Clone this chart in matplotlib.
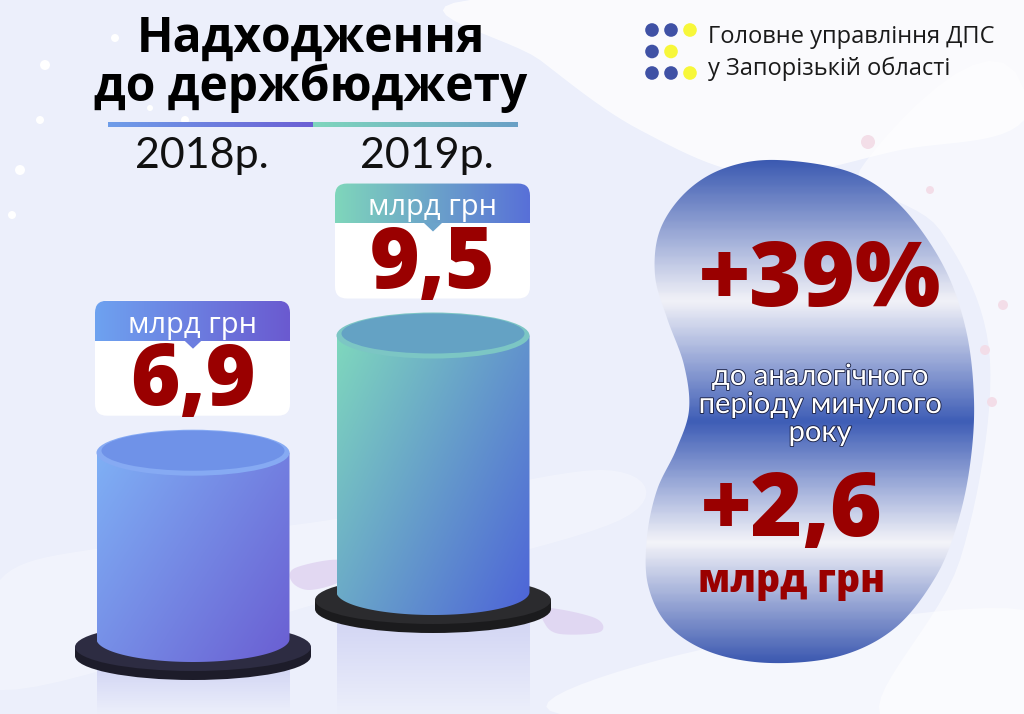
import numpy as np
import matplotlib
matplotlib.use('Agg')
import matplotlib.pyplot as plt
from matplotlib.patches import Ellipse, Polygon, FancyBboxPatch, Circle, Rectangle
from matplotlib.colors import LinearSegmentedColormap
import matplotlib.patheffects as pe

# --- data ---
years = ['2018р.', '2019р.']
values = [6.9, 9.5]                 # млрд грн
unit = 'млрд грн'
growth_pct = '+39%'
growth_abs = '+2,6'
title_lines = ['Надходження', 'до держбюджету']
org_lines = ['Головне управління ДПС', 'у Запорізькій області']
note = 'до аналогічного\nперіоду минулого\nроку'

# --- layout (pixel space, y down) ---
W, H = 1024, 714
FONT = ['Open Sans', 'DejaVu Sans']
THIN = ['Lato', 'DejaVu Sans']
DARK_RED = '#9a0000'
px_per_unit = 27.0
cx_list = [193, 433]
bottom_y = [639, 592]
rx, ry = 96.5, 23
body_cols = [('#7fb0f5', '#6a5ed2'), ('#7fd8bd', '#4d63d8')]
top_cols = [('#86aaf3', '#6f92e8'), ('#7cc6c4', '#64a2c4')]
base_cols = [('#2d2c42', '#1d1c2a'), ('#2b2b2e', '#1b1b1d')]
head_cols = [('#6ea2f0', '#6a5ad0'), ('#7fd6bb', '#5870d8')]

fig = plt.figure(figsize=(W / 100, H / 100), dpi=100)
ax = fig.add_axes([0, 0, 1, 1])
ax.axis('off')


def grad(clip, x0, x1, y0, y1, colors, angle=0.0, z=1, stops=None):
    n = 200
    s = np.linspace(0, 1, n)
    X, Y = np.meshgrid(s, s)
    a = np.deg2rad(angle)
    t = X * np.cos(a) + Y * np.sin(a)
    t = (t - t.min()) / (t.max() - t.min())
    if stops is None:
        cmap = LinearSegmentedColormap.from_list('g', colors)
    else:
        cmap = LinearSegmentedColormap.from_list('g', list(zip(stops, colors)))
    im = ax.imshow(cmap(t), extent=(x0, x1, y1, y0), origin='upper',
                   aspect='auto', zorder=z, interpolation='bilinear')
    if clip is not None:
        im.set_clip_path(clip)
    return im


def smooth_closed(pts, n=24):
    P = np.array(pts, float)
    m = len(P)
    out = []
    t = np.linspace(0, 1, n, endpoint=False)[:, None]
    for i in range(m):
        p0, p1, p2, p3 = P[i - 1], P[i], P[(i + 1) % m], P[(i + 2) % m]
        out.append(0.5 * (2 * p1 + (-p0 + p2) * t + (2 * p0 - 5 * p1 + 4 * p2 - p3) * t ** 2
                          + (-p0 + 3 * p1 - 3 * p2 + p3) * t ** 3))
    return np.vstack(out)


# background
ax.add_patch(Rectangle((0, 0), W, H, fc='#eceffb', lw=0, zorder=0))
for pts, a in [
    ([(470, 0), (1024, 0), (1024, 120), (900, 150), (760, 175), (640, 130), (540, 60)], 0.75),
    ([(1024, 90), (1024, 714), (880, 714), (960, 560), (990, 360), (940, 230), (860, 170)], 0.55),
    ([(0, 580), (120, 545), (330, 520), (600, 470), (620, 520), (330, 600), (0, 690)], 0.3),
    ([(560, 714), (700, 650), (1024, 610), (1024, 714)], 0.5),
]:
    ax.add_patch(Polygon(smooth_closed(pts, 12), closed=True, fc='white', alpha=a, lw=0, zorder=0.2))
for (x, y, r) in [(20, 170, 5), (45, 65, 5), (115, 38, 4), (40, 120, 4), (185, 120, 4),
                  (150, 108, 3), (12, 215, 4)]:
    ax.add_patch(Circle((x, y), r, fc='white', lw=0, zorder=0.3))
for (x, y, r) in [(868, 142, 7), (1003, 305, 5), (985, 350, 5), (992, 402, 5), (930, 190, 4)]:
    ax.add_patch(Circle((x, y), r, fc='#f3dbe6', lw=0, zorder=0.3, alpha=0.9))

# purple brush marks near the second cylinder
for pts in [[(295, 568), (340, 560), (342, 580), (310, 590), (292, 582)],
            [(545, 608), (595, 618), (600, 632), (560, 634), (545, 624)]]:
    ax.add_patch(Polygon(smooth_closed(pts, 10), closed=True, fc='#dccdef', alpha=0.7, lw=0, zorder=0.5))

# title
ax.text(311, 52, title_lines[0], ha='center', va='baseline', fontsize=34.5,
        fontweight='bold', family=FONT, color='black', zorder=5)
ax.text(311, 101, title_lines[1], ha='center', va='baseline', fontsize=34.5,
        fontweight='bold', family=FONT, color='black', zorder=5)
r1 = Rectangle((108, 122), 205, 5, fc='none', lw=0)
r2 = Rectangle((313, 122), 205, 5, fc='none', lw=0)
ax.add_patch(r1)
ax.add_patch(r2)
grad(r1, 108, 313, 122, 127, ['#6f9de9', '#6b5fd4'], z=3)
grad(r2, 313, 518, 122, 127, ['#7fd6bd', '#6aa0c6'], z=3)

# logo
logo = [('#3f51a5', '#3f51a5', '#f7f73a'), ('#3f51a5', '#f7f73a', None), ('#3f51a5', '#3f51a5', '#f7f73a')]
for i, row in enumerate(logo):
    for j, c in enumerate(row):
        if c:
            ax.add_patch(Circle((652 + 19 * j, 30 + 21.5 * i), 6.8, fc=c, lw=0, zorder=5))
ax.text(708, 43, org_lines[0], fontsize=17, family=FONT, color='#1a1a1a', va='baseline', zorder=5)
ax.text(708, 75, org_lines[1], fontsize=17, family=FONT, color='#1a1a1a', va='baseline', zorder=5)

# cylinders
for k, (cx, yb, v) in enumerate(zip(cx_list, bottom_y, values)):
    yt = yb - v * px_per_unit
    # reflection below base
    refl = Rectangle((cx - rx, yb + 30), 2 * rx, H - yb - 30, fc='none', lw=0)
    ax.add_patch(refl)
    grad(refl, cx - rx, cx + rx, yb + 30, H, ['#d3d6f4', '#eceffb'], angle=90, z=0.6)
    # base disk
    bc = yb + 8
    btop, bside = base_cols[k]
    ax.add_patch(Ellipse((cx, bc + 9), 236, 48, fc=bside, lw=0, zorder=2))
    ax.add_patch(Rectangle((cx - 118, bc), 236, 9, fc=bside, lw=0, zorder=2))
    ax.add_patch(Ellipse((cx, bc), 236, 48, fc=btop, lw=0, zorder=2.1))
    # body
    th = np.linspace(0, np.pi, 80)
    arc = np.column_stack([cx + rx * np.cos(th), yb + ry * np.sin(th)])
    body = Polygon(np.vstack([[cx + rx, yt], arc, [cx - rx, yt]]), closed=True, fc='none', lw=0)
    ax.add_patch(body)
    grad(body, cx - rx, cx + rx, yt, yb + ry, list(body_cols[k]), angle=35, z=3)
    # top face
    rim, face = top_cols[k]
    ax.add_patch(Ellipse((cx, yt), 2 * rx, 2 * ry, fc=rim, lw=0, zorder=3.2))
    ax.add_patch(Ellipse((cx, yt - 2), 2 * rx - 10, 2 * ry - 6, fc=face, lw=0, zorder=3.3))

    # value label box
    bx0, bx1 = cx - 98, cx + 97
    bb = yt - 37
    bt = bb - 115
    box = FancyBboxPatch((bx0, bt), bx1 - bx0, bb - bt, boxstyle='round,pad=0,rounding_size=12',
                         fc='white', lw=0, zorder=4)
    ax.add_patch(box)
    grad(box, bx0, bx1, bt, bt + 40, list(head_cols[k]), z=4.1)
    mid = LinearSegmentedColormap.from_list('m', list(head_cols[k]))(0.5)
    ax.add_patch(Polygon([(cx - 9, bt + 39.5), (cx + 9, bt + 39.5), (cx, bt + 48)], closed=True,
                         fc=mid, lw=0, zorder=4.2))
    ax.text(cx, bt + 32, unit, ha='center', va='baseline', fontsize=21, family=FONT,
            color='white', zorder=5)
    ax.text(cx, bb - 11, f'{v:.1f}'.replace('.', ','), ha='center', va='baseline', fontsize=61,
            fontweight='heavy', family=FONT, color=DARK_RED, zorder=5)

    # year
    ax.text([202, 427][k], 168, years[k], ha='center', va='baseline', fontsize=31,
            fontweight='normal', family=THIN, color='#111111', zorder=5)

# blob
blob_pts = [(777, 160), (850, 172), (900, 205), (943, 265), (966, 330), (974, 400), (970, 465),
            (957, 525), (935, 578), (895, 628), (840, 656), (770, 663), (710, 652), (668, 625),
            (648, 585), (647, 537), (657, 490), (676, 450), (689, 410), (684, 365), (667, 318),
            (655, 275), (660, 230), (686, 192), (725, 168)]
blob = Polygon(smooth_closed(blob_pts), closed=True, fc='none', lw=0)
ax.add_patch(blob)
grad(blob, 640, 980, 158, 665, ['#3a59b1', '#f2f2f8', '#3e5db6', '#f4f4f9', '#3b58b0'],
     angle=90, z=3, stops=[0, 0.28, 0.52, 0.76, 1])

ax.text(820, 306, growth_pct, ha='center', va='baseline', fontsize=65, fontweight='heavy',
        family=FONT, color=DARK_RED, zorder=5)
ax.text(820, 405, note, ha='center', va='center', fontsize=21, linespacing=1.1,
        family=THIN, fontweight='normal', color='white', zorder=5,
        path_effects=[pe.withStroke(linewidth=1.3, foreground='#1b2245')])
ax.text(792, 536, growth_abs, ha='center', va='baseline', fontsize=64, fontweight='heavy',
        family=FONT, color=DARK_RED, zorder=5)
ax.text(792, 592, unit, ha='center', va='baseline', fontsize=27, fontweight='heavy',
        family=FONT, color=DARK_RED, zorder=5)

ax.set_xlim(0, W)
ax.set_ylim(H, 0)
fig.savefig('out.png', dpi=100)
